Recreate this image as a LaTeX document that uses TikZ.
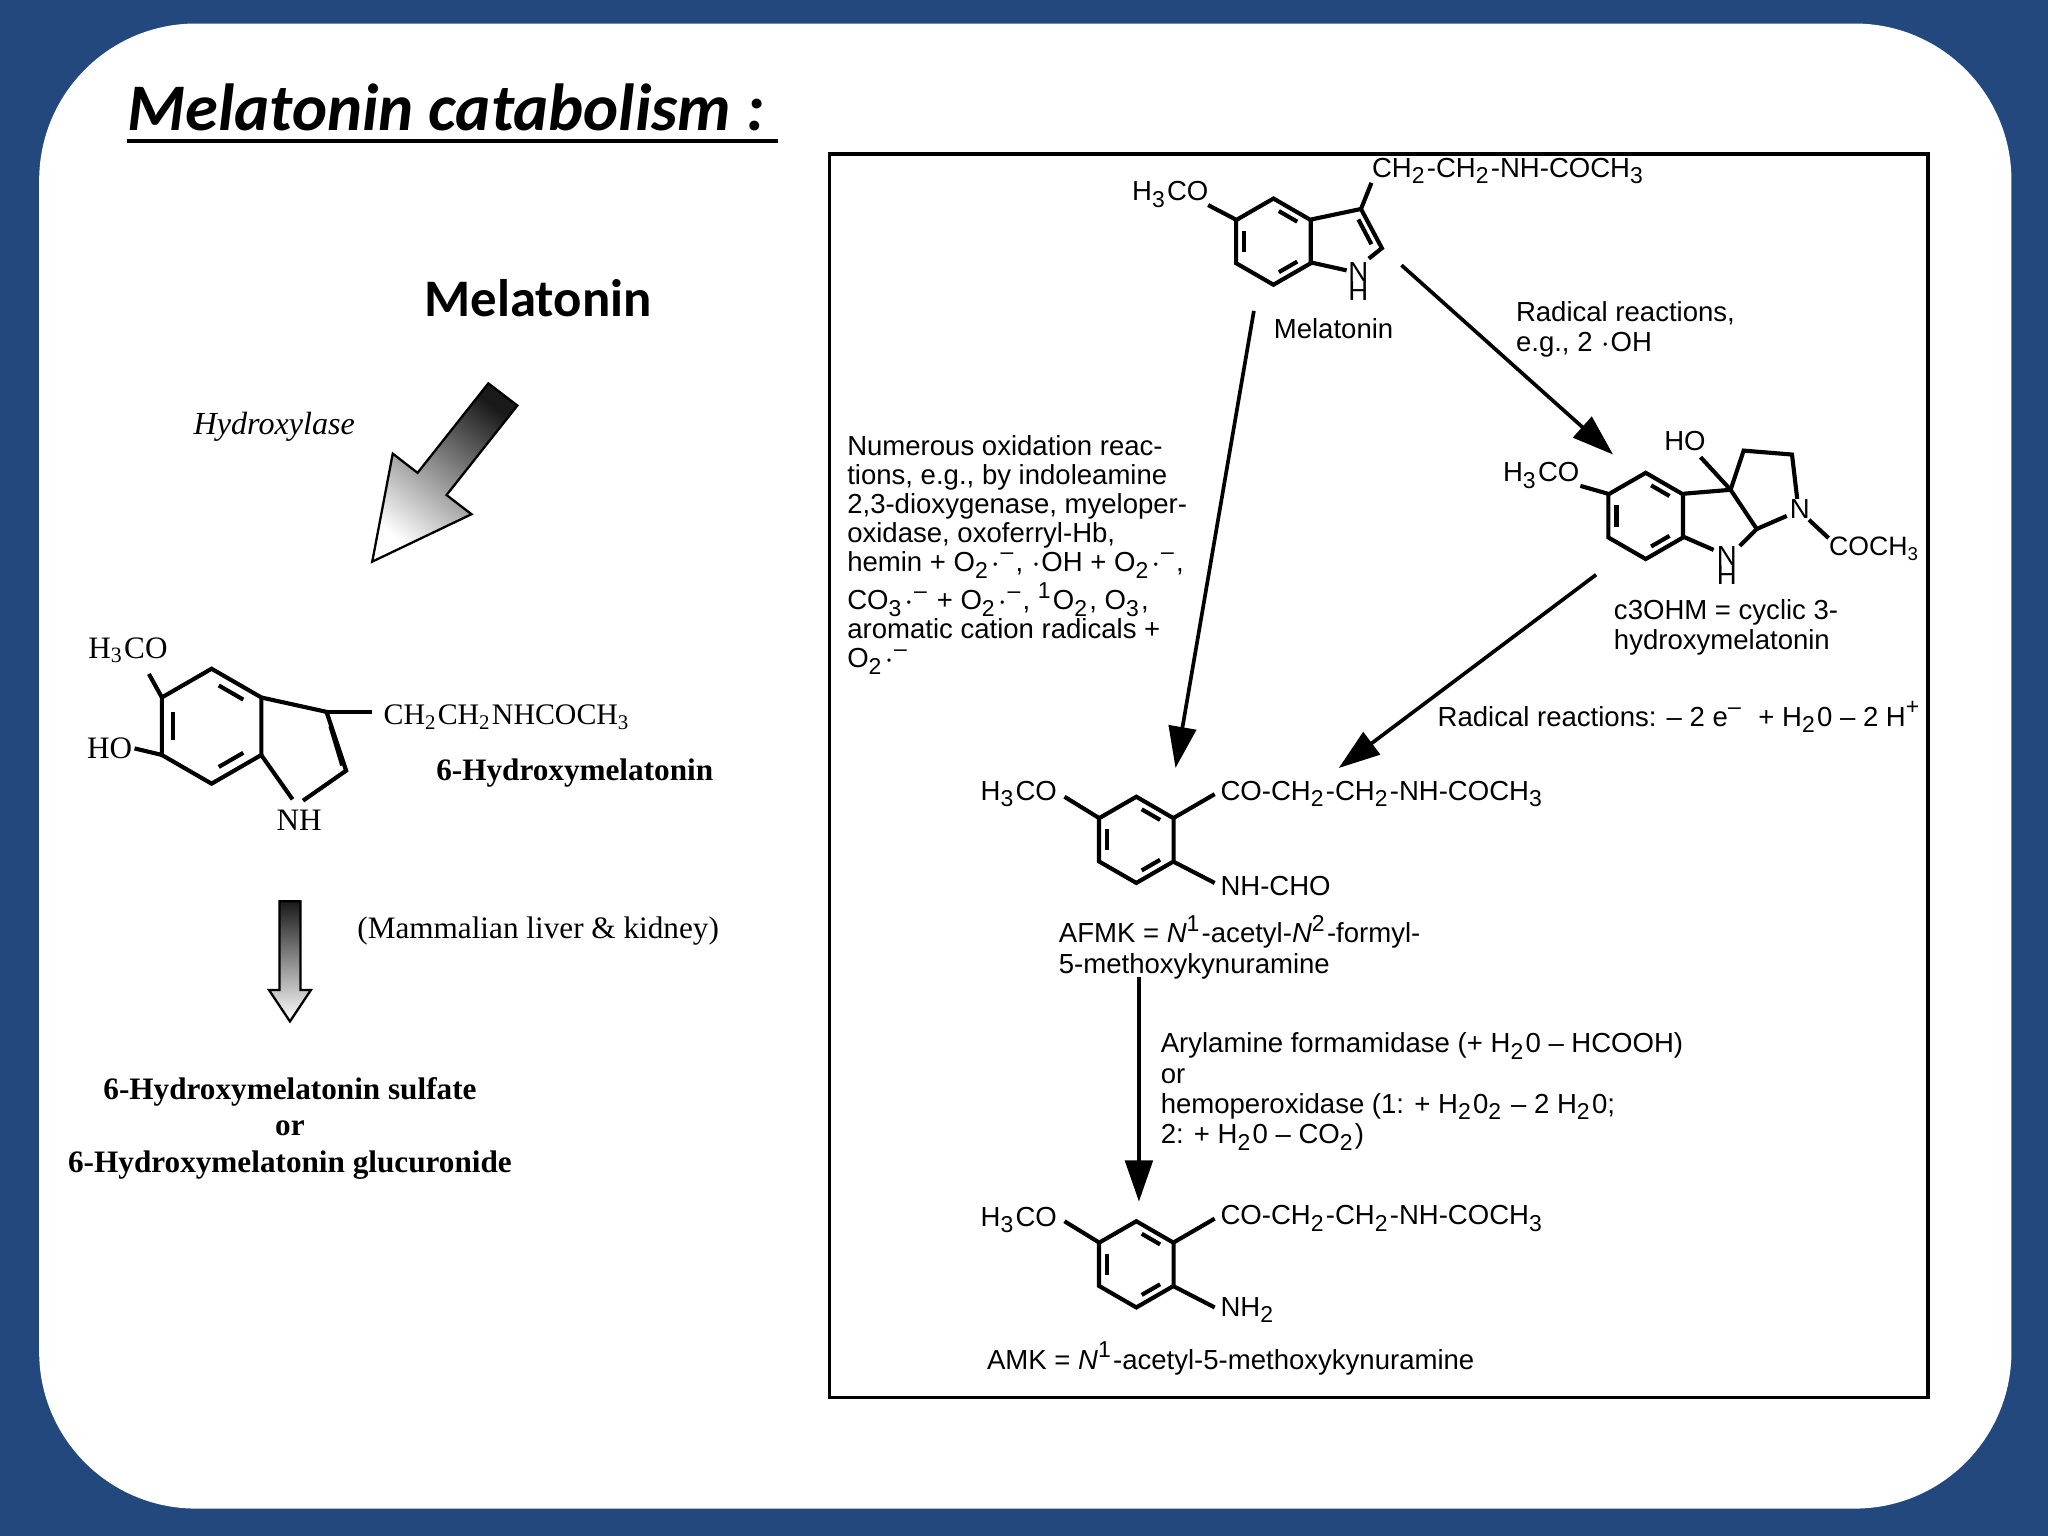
\documentclass[tikz,border=0pt]{standalone}
\usepackage{fontspec}
\setmainfont{Liberation Serif}
\newfontfamily\arial[Ligatures=TeX]{Liberation Sans}
\newfontfamily\calib{Carlito}
\usetikzlibrary{arrows.meta,calc}
\definecolor{bgblue}{HTML}{22487D}
\tikzset{
 bond/.style={line width=0.9pt,black},
 conn/.style={line width=0.8pt,-{Triangle[length=9pt,width=6pt]}},
 lab/.style={font=\arial\fontsize{6}{6.6}\selectfont,inner sep=0pt,align=left},
 sm/.style={font=\arial\fontsize{6}{6.6}\selectfont,inner sep=0.5pt},
 serif/.style={font=\fontsize{6.8}{8.5}\selectfont,inner sep=0pt},
 serifb/.style={font=\bfseries\fontsize{6.8}{8.5}\selectfont,inner sep=0pt},
 gradarrow/.style={draw=black,line width=0.5pt,shading=axis,top color=black!90,bottom color=white}
}
\newcommand\benz[3]{%
 \draw[bond] (#1,#2)+(30:#3)--+(90:#3)--+(150:#3)--+(210:#3)--+(270:#3)--+(330:#3)--cycle;
 \draw[bond] (#1,#2)+(40:{0.72*#3})--+(80:{0.72*#3});
 \draw[bond] (#1,#2)+(160:{0.72*#3})--+(200:{0.72*#3});
 \draw[bond] (#1,#2)+(280:{0.72*#3})--+(320:{0.72*#3});
}
\begin{document}
\begin{tikzpicture}[x=0.1mm,y=-0.1mm]
\fill[bgblue] (0,0) rectangle (1568,1176);
\fill[white,rounded corners=12mm] (30,18) rectangle (1540,1155);
\useasboundingbox (0,0) rectangle (1568,1176);
% title
\node[anchor=base west,inner sep=0,font=\calib\bfseries\itshape\fontsize{14.5}{16}\selectfont] (title) at (97,100) {Melatonin catabolism :};
\draw[line width=1pt] (97,108) -- (596,108);
\node[font=\calib\bfseries\fontsize{11.5}{13}\selectfont] (melL) at (412,228) {Melatonin};
\node[font=\itshape\fontsize{7}{9}\selectfont] (hyd) at (210,327) {Hydroxylase};
\draw[gradarrow,shading angle=-38] (373.9,293.5)--(396.1,310.5)--(341.9,379)--(361,393.7)--(285,430)--(300.7,347.3)--(319.7,362)--cycle;
% 6-hydroxymelatonin
\benz{162}{556}{44}
\draw[bond] (200,534)--(250,545)--(265,590)--(232,613);
\draw[bond] (224,612)--(200,578);
\draw[bond] (253,556)--(262,586);
\draw[bond] (124,534)--(114,516);
\draw[bond] (124,578)--(103,573);
\draw[bond] (250,545)--(285,545);
\node[serif] (h3co1) at (98,498) {H\textsubscript{3}CO};
\node[serif] (ho1) at (84,573) {HO};
\node[serif] (nh1) at (229,628) {NH};
\node[serif,font=\fontsize{6.5}{8}\selectfont,anchor=west] (chain1) at (293,549) {CH\textsubscript{2}CH\textsubscript{2}NHCOCH\textsubscript{3}};
\node[serifb] (hm) at (440,592) {6-Hydroxymelatonin};
\draw[gradarrow] (214,690)--(230,690)--(230,758)--(238,758)--(222,782)--(206,758)--(214,758)--cycle;
\node[serif] (mlk) at (412,713) {(Mammalian liver \& kidney)};
\node[serifb] (s1) at (222,836) {6-Hydroxymelatonin sulfate};
\node[serifb] (s2) at (222,864) {or};
\node[serifb] (s3) at (222,892) {6-Hydroxymelatonin glucuronide};
% right box
\draw[line width=0.8pt] (635,118) rectangle (1476,1070);
% melatonin
\benz{975}{185}{33}
\draw[bond] (1004,168)--(1042,160)--(1058,190)--(1048,198);
\draw[bond] (1004,201)--(1031,207);
\draw[bond] (1040,168)--(1050,187);
\draw[bond] (1042,160)--(1050,140);
\draw[bond] (946,168)--(925,157);
\node[sm] (h3co2) at (896,149) {H\textsubscript{3}CO};
\node[sm,anchor=west] (chain2) at (1048,131) {CH\textsubscript{2}-CH\textsubscript{2}-NH-COCH\textsubscript{3}};
\node[sm] (nn2) at (1040,208) {N};
\node[sm] (nh2) at (1040,223) {H};
\node[lab] (mel) at (1021,252) {Melatonin};
% c3OHM
\benz{1260}{395}{33}
\draw[bond] (1289,378)--(1325,375)--(1345,405)--(1332,418);
\draw[bond] (1289,411)--(1312,421);
\draw[bond] (1325,375)--(1335,345)--(1372,348)--(1376,382);
\draw[bond] (1345,405)--(1368,395);
\draw[bond] (1385,398)--(1400,412);
\draw[bond] (1325,375)--(1302,350);
\draw[bond] (1231,378)--(1210,372);
\node[sm] (ho2) at (1290,338) {HO};
\node[sm] (h3co3) at (1180,364) {H\textsubscript{3}CO};
\node[sm] (n3) at (1378,390) {N};
\node[sm] (nn3) at (1322,426) {N};
\node[sm] (nh3) at (1322,440) {H};
\node[sm,anchor=west,font=\arial\fontsize{5.8}{6.4}\selectfont] (coch3) at (1398,420) {COCH\textsubscript{3}};
\node[lab,anchor=north west] (c3l) at (1235,458) {c3OHM = cyclic 3-\\hydroxymelatonin};
% AFMK
\benz{870}{643}{33}
\draw[bond] (841,626)--(815,610);
\draw[bond] (899,626)--(930,608);
\draw[bond] (899,660)--(930,676);
\node[sm] (h3co4) at (780,608) {H\textsubscript{3}CO};
\node[sm,anchor=west] (afc) at (932,608) {CO-CH\textsubscript{2}-CH\textsubscript{2}-NH-COCH\textsubscript{3}};
\node[sm,anchor=west] (afn) at (932,678) {NH-CHO};
\node[lab,anchor=north west] (afmk) at (810,700) {AFMK = \textit{N}\textsuperscript{1}-acetyl-\textit{N}\textsuperscript{2}-formyl-\\5-methoxykynuramine};
% AMK
\benz{870}{968}{33}
\draw[bond] (841,951)--(815,935);
\draw[bond] (899,951)--(930,933);
\draw[bond] (899,985)--(930,1001);
\node[sm] (h3co5) at (780,934) {H\textsubscript{3}CO};
\node[sm,anchor=west] (amc) at (932,933) {CO-CH\textsubscript{2}-CH\textsubscript{2}-NH-COCH\textsubscript{3}};
\node[sm,anchor=west] (amn) at (932,1003) {NH\textsubscript{2}};
\node[lab,anchor=west] (amk) at (755,1040) {AMK = \textit{N}\textsuperscript{1}-acetyl-5-methoxykynuramine};
% labels
\node[lab,anchor=north west] (rad1) at (1160,230) {Radical reactions,\\e.g., 2 $\cdot$OH};
\node[lab,anchor=west] (rad2) at (1100,549) {Radical reactions: – 2 e\textsuperscript{–} \ + H\textsubscript{2}0 – 2 H\textsuperscript{+}};
\node[lab,anchor=north west,font=\arial\fontsize{6}{6.3}\selectfont] (num) at (648,333) {Numerous oxidation reac-\\tions, e.g., by indoleamine\\2,3-dioxygenase, myeloper-\\oxidase, oxoferryl-Hb,\\hemin + O\textsubscript{2}$\cdot$\textsuperscript{–}, $\cdot$OH + O\textsubscript{2}$\cdot$\textsuperscript{–},\\CO\textsubscript{3}$\cdot$\textsuperscript{–} + O\textsubscript{2}$\cdot$\textsuperscript{–}, \textsuperscript{1}O\textsubscript{2}, O\textsubscript{3},\\aromatic cation radicals +\\O\textsubscript{2}$\cdot$\textsuperscript{–}};
\node[lab,anchor=north west] (enz) at (888,790) {Arylamine formamidase (+ H\textsubscript{2}0 – HCOOH)\\or\\hemoperoxidase (1: + H\textsubscript{2}0\textsubscript{2} – 2 H\textsubscript{2}0;\\2: + H\textsubscript{2}0 – CO\textsubscript{2})};
% connectors
\coordinate (a1) at (960,238); \coordinate (a1e) at (900,588);
\coordinate (a2) at (1073,203); \coordinate (a2e) at (1235,348);
\coordinate (a3) at (1222,440); \coordinate (a3e) at (1025,588);
\coordinate (a4) at (872,748); \coordinate (a4e) at (872,920);
\draw[conn] (a1)--(a1e);
\draw[conn] (a2)--(a2e);
\draw[conn] (a3)--(a3e);
\draw[conn] (a4)--(a4e);
\end{tikzpicture}
\end{document}
